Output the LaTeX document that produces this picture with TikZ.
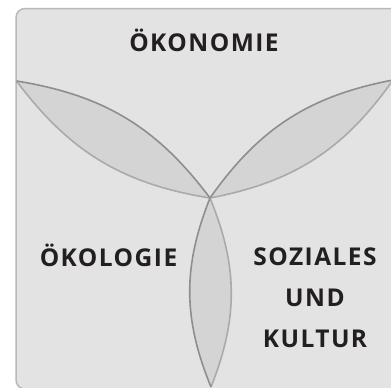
\documentclass[tikz,border=0pt]{standalone}
\usepackage{fontspec}
\setsansfont{Open Sans}[LetterSpace=6]
\definecolor{panelfill}{HTML}{E3E3E4}
\definecolor{panelline}{HTML}{B9B9BA}
\definecolor{leaffill}{HTML}{D4D4D5}
\definecolor{rimdark}{HTML}{8E8E8F}
\definecolor{rimlight}{HTML}{AAAAAB}
\definecolor{textcol}{HTML}{231F20}

\begin{document}
\begin{tikzpicture}[x=1pt, y=-1pt,
   panel/.style = {draw=panelline, fill=panelfill, line width=1.5pt, rounded corners=9pt},
    leaf/.style = {fill=leaffill},
     rim/.style = {draw=rimdark, line width=1.6pt},
  rimhell/.style = {draw=rimlight, line width=1.6pt},
   titel/.style = {font=\sffamily\bfseries\fontsize{24.5}{41}\selectfont, text=textcol,
                   inner sep=0pt, align=center}
                    ]
\useasboundingbox (0,0) rectangle (391,388);
\clip (0,0) rectangle (391,388);
\draw[panel] (16,8.5) rectangle (405,389);

%tips
\coordinate (mitte)  at (210,198);
\coordinate (links)  at (16.5,81);
\coordinate (rechts) at (393,80);
\coordinate (unten)  at (211,387);

%leaves
\fill[leaf] (links) to[bend left=22] (mitte) to[bend left=22] (links);
\fill[leaf] (mitte) to[bend left=22] (rechts) to[bend left=22] (mitte);
\fill[leaf] (mitte) to[bend left=22] (unten) to[bend left=22] (mitte);

% rims
\draw[rimhell] (links) to[bend right=22] (mitte);
\draw[rim]     (links) to[bend left=22] (mitte);
\draw[rimhell] (mitte) to[bend right=22] (rechts);
\draw[rim]     (mitte) to[bend left=22] (rechts);
\draw[rimhell] (mitte) to[bend left=22] (unten);
\draw[rim]     (mitte) to[bend right=22] (unten);

%nodes
\node[titel, anchor=base] (oekonomie) at (204,51)  {ÖKONOMIE};
\node[titel, anchor=base] (oekologie) at (108.5,266.5) {ÖKOLOGIE};
\node[titel] (soziales) at (315,298) {SOZIALES\\UND\\KULTUR};
\end{tikzpicture}
\end{document}
